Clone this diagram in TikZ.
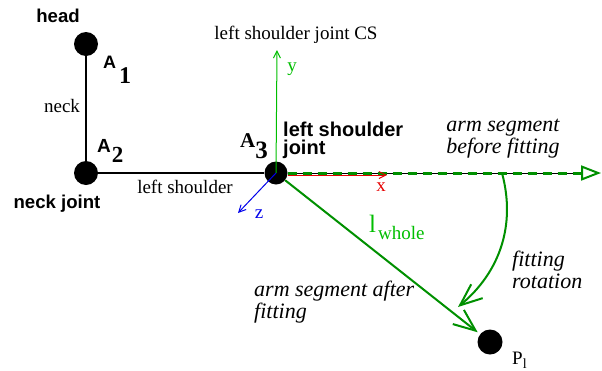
\documentclass[tikz,border=0pt]{standalone}
\usepackage{fontspec}
\setmainfont{Liberation Serif}
\setsansfont{Liberation Sans}
\usetikzlibrary{arrows.meta}
\definecolor{armgreen}{RGB}{0,144,0}
\definecolor{csgreen}{RGB}{0,190,0}
\definecolor{csred}{RGB}{230,0,0}
\definecolor{csblue}{RGB}{0,0,235}

\begin{document}
\begin{tikzpicture}[x=1pt,y=-1pt,inner sep=0pt,
  dot/.style={circle,fill=black,minimum size=24pt},
  t/.style={font=\fontsize{19}{22}\selectfont},
  it/.style={font=\fontsize{22}{22}\itshape\selectfont,align=left},
  bs/.style={font=\fontsize{18.6}{18}\sffamily\bfseries\selectfont,align=left},
  ax/.style={line width=1pt,-{Straight Barb[length=7pt,width=7pt]}},
  a/.style={line width=2pt,-{Straight Barb[length=22pt,width=18pt]}}]
\useasboundingbox (0,0) rectangle (602,370);
% joints
\node[dot] (hd) at (86,44) {};
\node[dot] (nj) at (86,173) {};
\node[dot,minimum size=23pt] (sj) at (276,173) {};
\node[dot,minimum size=25pt] (pl) at (490,342) {};
\coordinate (bb) at (582,173);
\coordinate (be) at (601,173);
\coordinate (ye) at (277,50);
\coordinate (xe) at (387,175);
\coordinate (ze) at (238,213);
\coordinate (rs) at (502,173);
\coordinate (re) at (458,307);
% skeleton
\draw[line width=2pt] (hd) -- (nj) -- (sj);
\draw[line width=1pt] (sj) -- (bb);
\draw[armgreen,line width=3pt,dash pattern=on 9pt off 6pt,
  -{Triangle[open,length=20pt,width=15pt,line width=2pt]}] (sj) -- (be);
% shoulder CS
\draw[ax,csgreen] (sj.center) -- (ye);
\draw[ax,csred] ([yshift=-2pt]sj.east) -- (xe);
\draw[ax,csblue] (sj.center) -- (ze);
% fitting
\draw[a,armgreen,shorten >=3pt] (sj) -- (pl);
\draw[a,armgreen] (rs) .. controls (516,225) and (500,272) .. (re);
% labels
\node[bs] (thead) at (58,16) {head};
\node[bs,anchor=base west] (ta1) at (103,68)
  {{\fontsize{18}{18}\selectfont A}\kern3pt\raisebox{-15pt}{\rmfamily\fontsize{24}{24}\selectfont 1}};
\node[t] (tneck) at (62,106) {neck};
\node[bs,anchor=base west] (ta2) at (97,152)
  {{\fontsize{19}{19}\selectfont A}\kern1pt\raisebox{-10pt}{\rmfamily\fontsize{23}{23}\selectfont 2}};
\node[bs] (tnj) at (57,204) {neck joint};
\node[t] (tls) at (185,187) {left shoulder};
\node[t,anchor=base west,font=\fontsize{21}{22}\rmfamily\bfseries\selectfont] (ta3) at (240,147)
  {A\raisebox{-11pt}{\fontsize{25}{25}\selectfont 3}};
\node[t] (tcs) at (296,35) {left shoulder joint CS};
\node[t,text=csgreen] (ty) at (292,69) {y};
\node[t,text=csred] (tx) at (381,187) {x};
\node[t,text=csblue] (tz) at (259,214) {z};
\node[bs,anchor=north west,font=\fontsize{20}{18}\sffamily\bfseries\selectfont] (tlsj) at (283,122)
  {left shoulder\\joint};
\node[it,align=center] (tbef) at (503,139) {arm segment\\before fitting};
\node[it,anchor=west] (trot) at (512,270) {fitting\\rotation};
\node[it,anchor=west] (taft) at (254,302) {arm segment after\\fitting};
\node[anchor=base west,text=csgreen,font=\fontsize{25}{25}\selectfont] (tlw) at (369,232)
  {l\kern2pt\raisebox{-7pt}{\fontsize{19}{19}\selectfont whole}};
\node[t,anchor=base west] (tpl) at (512,364)
  {P\raisebox{-4pt}{\fontsize{14}{14}\selectfont l}};
\end{tikzpicture}
\end{document}
